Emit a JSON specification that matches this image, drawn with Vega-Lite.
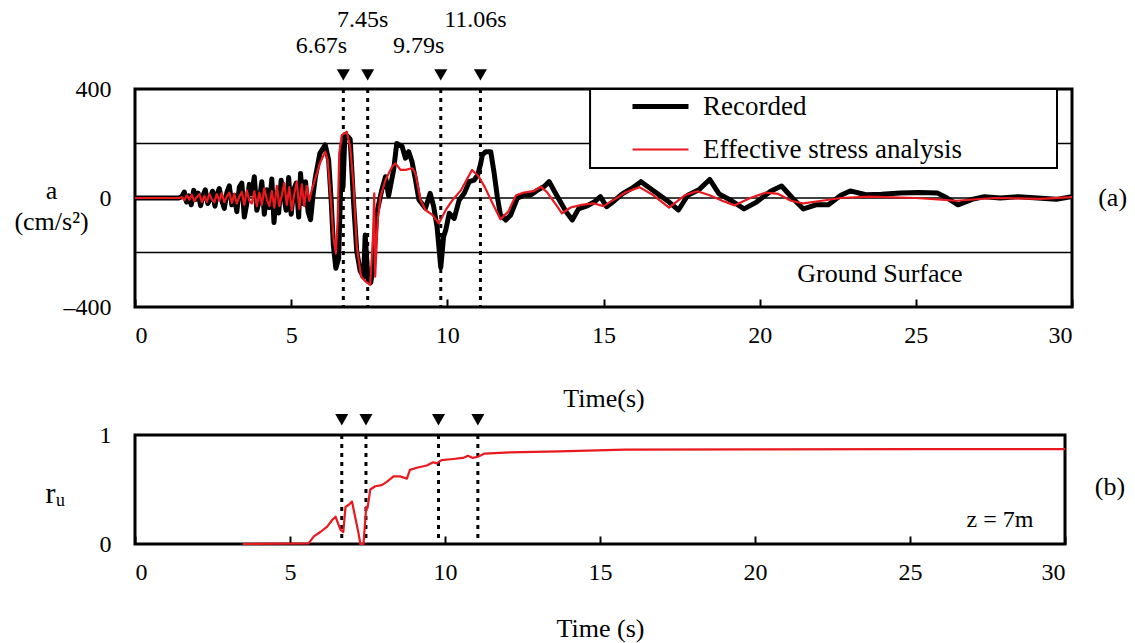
{
  "$schema": "https://vega.github.io/schema/vega-lite/v6.json",
  "background": "white",
  "padding": {"left": 12, "top": 6, "right": 0, "bottom": 0},
  "bounds": "flush",
  "spacing": 128,
  "config": {
    "font": "Liberation Serif",
    "view": {"stroke": "black", "strokeWidth": 3},
    "axis": {"labelFont": "Liberation Serif", "titleFont": "Liberation Serif", "labelColor": "black", "titleColor": "black", "titleFontWeight": "normal", "domain": false, "grid": false, "labelFontSize": 24, "titleFontSize": 26},
    "text": {"font": "Liberation Serif", "color": "black"}
  },
  "datasets": {
    "grid": [{"a": -200}, {"a": 0}, {"a": 200}],
    "markers": [{"t": 6.67, "label": "6.67s"}, {"t": 7.45, "label": "7.45s"}, {"t": 9.79, "label": "9.79s"}, {"t": 11.06, "label": "11.06s"}],
    "acc": [
      {"series":"Recorded","t":0,"a":0},{"series":"Recorded","t":1.4,"a":0},{"series":"Recorded","t":1.5,"a":5},{"series":"Recorded","t":1.58,"a":22},{"series":"Recorded","t":1.65,"a":-15},{"series":"Recorded","t":1.72,"a":8},{"series":"Recorded","t":1.8,"a":-25},{"series":"Recorded","t":1.88,"a":28},{"series":"Recorded","t":1.95,"a":-5},{"series":"Recorded","t":2.02,"a":18},{"series":"Recorded","t":2.1,"a":-28},{"series":"Recorded","t":2.18,"a":10},{"series":"Recorded","t":2.25,"a":30},{"series":"Recorded","t":2.33,"a":-20},{"series":"Recorded","t":2.4,"a":-5},{"series":"Recorded","t":2.48,"a":25},{"series":"Recorded","t":2.56,"a":-30},{"series":"Recorded","t":2.63,"a":15},{"series":"Recorded","t":2.7,"a":35},{"series":"Recorded","t":2.78,"a":-10},{"series":"Recorded","t":2.86,"a":-38},{"series":"Recorded","t":2.94,"a":20},{"series":"Recorded","t":3.02,"a":45},{"series":"Recorded","t":3.1,"a":-25},{"series":"Recorded","t":3.18,"a":10},{"series":"Recorded","t":3.26,"a":-50},{"series":"Recorded","t":3.34,"a":40},{"series":"Recorded","t":3.42,"a":55},{"series":"Recorded","t":3.5,"a":-70},{"series":"Recorded","t":3.58,"a":-20},{"series":"Recorded","t":3.66,"a":50},{"series":"Recorded","t":3.74,"a":15},{"series":"Recorded","t":3.82,"a":78},{"series":"Recorded","t":3.9,"a":-45},{"series":"Recorded","t":3.98,"a":-10},{"series":"Recorded","t":4.06,"a":60},{"series":"Recorded","t":4.14,"a":-60},{"series":"Recorded","t":4.22,"a":30},{"series":"Recorded","t":4.3,"a":-35},{"series":"Recorded","t":4.38,"a":70},{"series":"Recorded","t":4.45,"a":-90},{"series":"Recorded","t":4.52,"a":20},{"series":"Recorded","t":4.6,"a":-55},{"series":"Recorded","t":4.68,"a":65},{"series":"Recorded","t":4.76,"a":10},{"series":"Recorded","t":4.84,"a":-45},{"series":"Recorded","t":4.92,"a":75},{"series":"Recorded","t":5.0,"a":-60},{"series":"Recorded","t":5.08,"a":30},{"series":"Recorded","t":5.16,"a":55},{"series":"Recorded","t":5.24,"a":-70},{"series":"Recorded","t":5.3,"a":90},{"series":"Recorded","t":5.38,"a":-20},{"series":"Recorded","t":5.46,"a":60},{"series":"Recorded","t":5.54,"a":-50},{"series":"Recorded","t":5.62,"a":-80},{"series":"Recorded","t":5.7,"a":10},{"series":"Recorded","t":5.77,"a":73},{"series":"Recorded","t":5.92,"a":164},{"series":"Recorded","t":6.09,"a":195},{"series":"Recorded","t":6.2,"a":139},{"series":"Recorded","t":6.28,"a":-7},{"series":"Recorded","t":6.35,"a":-172},{"series":"Recorded","t":6.43,"a":-258},{"series":"Recorded","t":6.52,"a":-222},{"series":"Recorded","t":6.57,"a":-20},{"series":"Recorded","t":6.62,"a":190},{"series":"Recorded","t":6.66,"a":40},{"series":"Recorded","t":6.72,"a":232},{"series":"Recorded","t":6.82,"a":225},{"series":"Recorded","t":6.89,"a":215},{"series":"Recorded","t":7.0,"a":-20},{"series":"Recorded","t":7.1,"a":-196},{"series":"Recorded","t":7.21,"a":-268},{"series":"Recorded","t":7.32,"a":-289},{"series":"Recorded","t":7.37,"a":-136},{"series":"Recorded","t":7.46,"a":-300},{"series":"Recorded","t":7.55,"a":-310},{"series":"Recorded","t":7.64,"a":-240},{"series":"Recorded","t":7.74,"a":-56},{"series":"Recorded","t":7.9,"a":29},{"series":"Recorded","t":8.02,"a":78},{"series":"Recorded","t":8.12,"a":8},{"series":"Recorded","t":8.28,"a":103},{"series":"Recorded","t":8.38,"a":200},{"series":"Recorded","t":8.55,"a":190},{"series":"Recorded","t":8.66,"a":146},{"series":"Recorded","t":8.76,"a":170},{"series":"Recorded","t":8.87,"a":133},{"series":"Recorded","t":8.98,"a":67},{"series":"Recorded","t":9.09,"a":-6},{"series":"Recorded","t":9.3,"a":-38},{"series":"Recorded","t":9.45,"a":17},{"series":"Recorded","t":9.56,"a":-30},{"series":"Recorded","t":9.67,"a":-105},{"series":"Recorded","t":9.79,"a":-255},{"series":"Recorded","t":9.88,"a":-142},{"series":"Recorded","t":9.95,"a":-117},{"series":"Recorded","t":10.06,"a":-56},{"series":"Recorded","t":10.22,"a":-75},{"series":"Recorded","t":10.38,"a":-7},{"series":"Recorded","t":10.54,"a":17},{"series":"Recorded","t":10.7,"a":60},{"series":"Recorded","t":10.86,"a":66},{"series":"Recorded","t":10.97,"a":84},{"series":"Recorded","t":11.07,"a":127},{"series":"Recorded","t":11.12,"a":158},{"series":"Recorded","t":11.23,"a":170},{"series":"Recorded","t":11.39,"a":170},{"series":"Recorded","t":11.5,"a":90},{"series":"Recorded","t":11.6,"a":5},{"series":"Recorded","t":11.7,"a":-62},{"series":"Recorded","t":11.87,"a":-81},{"series":"Recorded","t":12.03,"a":-62},{"series":"Recorded","t":12.24,"a":-1},{"series":"Recorded","t":12.46,"a":11},{"series":"Recorded","t":12.67,"a":11},{"series":"Recorded","t":12.89,"a":29},{"series":"Recorded","t":13.1,"a":42},{"series":"Recorded","t":13.26,"a":60},{"series":"Recorded","t":13.45,"a":20},{"series":"Recorded","t":13.6,"a":-10},{"series":"Recorded","t":13.8,"a":-50},{"series":"Recorded","t":14.0,"a":-81},{"series":"Recorded","t":14.2,"a":-40},{"series":"Recorded","t":14.45,"a":-30},{"series":"Recorded","t":14.7,"a":-15},{"series":"Recorded","t":14.9,"a":5},{"series":"Recorded","t":15.1,"a":-32},{"series":"Recorded","t":15.35,"a":-10},{"series":"Recorded","t":15.6,"a":15},{"series":"Recorded","t":15.9,"a":35},{"series":"Recorded","t":16.2,"a":60},{"series":"Recorded","t":16.5,"a":35},{"series":"Recorded","t":16.8,"a":10},{"series":"Recorded","t":17.1,"a":-15},{"series":"Recorded","t":17.4,"a":-44},{"series":"Recorded","t":17.7,"a":10},{"series":"Recorded","t":18.05,"a":30},{"series":"Recorded","t":18.4,"a":68},{"series":"Recorded","t":18.7,"a":15},{"series":"Recorded","t":19.1,"a":-10},{"series":"Recorded","t":19.5,"a":-40},{"series":"Recorded","t":19.9,"a":-15},{"series":"Recorded","t":20.35,"a":25},{"series":"Recorded","t":20.7,"a":44},{"series":"Recorded","t":21.05,"a":0},{"series":"Recorded","t":21.4,"a":-40},{"series":"Recorded","t":21.8,"a":-25},{"series":"Recorded","t":22.2,"a":-25},{"series":"Recorded","t":22.6,"a":10},{"series":"Recorded","t":22.9,"a":26},{"series":"Recorded","t":23.4,"a":12},{"series":"Recorded","t":23.9,"a":14},{"series":"Recorded","t":24.5,"a":18},{"series":"Recorded","t":25.1,"a":20},{"series":"Recorded","t":25.7,"a":18},{"series":"Recorded","t":26.0,"a":0},{"series":"Recorded","t":26.35,"a":-25},{"series":"Recorded","t":26.8,"a":-5},{"series":"Recorded","t":27.2,"a":5},{"series":"Recorded","t":27.7,"a":0},{"series":"Recorded","t":28.3,"a":5},{"series":"Recorded","t":28.9,"a":0},{"series":"Recorded","t":29.5,"a":-5},{"series":"Recorded","t":30,"a":5},
      {"series":"Effective stress analysis","t":0,"a":0},{"series":"Effective stress analysis","t":1.4,"a":0},{"series":"Effective stress analysis","t":1.5,"a":3},{"series":"Effective stress analysis","t":1.58,"a":-8},{"series":"Effective stress analysis","t":1.66,"a":10},{"series":"Effective stress analysis","t":1.74,"a":-6},{"series":"Effective stress analysis","t":1.82,"a":12},{"series":"Effective stress analysis","t":1.9,"a":-12},{"series":"Effective stress analysis","t":1.98,"a":4},{"series":"Effective stress analysis","t":2.06,"a":14},{"series":"Effective stress analysis","t":2.14,"a":-15},{"series":"Effective stress analysis","t":2.22,"a":8},{"series":"Effective stress analysis","t":2.3,"a":-14},{"series":"Effective stress analysis","t":2.38,"a":15},{"series":"Effective stress analysis","t":2.46,"a":-5},{"series":"Effective stress analysis","t":2.54,"a":-16},{"series":"Effective stress analysis","t":2.62,"a":14},{"series":"Effective stress analysis","t":2.7,"a":-10},{"series":"Effective stress analysis","t":2.78,"a":18},{"series":"Effective stress analysis","t":2.86,"a":-15},{"series":"Effective stress analysis","t":2.94,"a":6},{"series":"Effective stress analysis","t":3.02,"a":20},{"series":"Effective stress analysis","t":3.1,"a":-18},{"series":"Effective stress analysis","t":3.18,"a":15},{"series":"Effective stress analysis","t":3.26,"a":-20},{"series":"Effective stress analysis","t":3.34,"a":5},{"series":"Effective stress analysis","t":3.42,"a":22},{"series":"Effective stress analysis","t":3.5,"a":-25},{"series":"Effective stress analysis","t":3.58,"a":28},{"series":"Effective stress analysis","t":3.66,"a":-10},{"series":"Effective stress analysis","t":3.74,"a":-20},{"series":"Effective stress analysis","t":3.82,"a":25},{"series":"Effective stress analysis","t":3.9,"a":-30},{"series":"Effective stress analysis","t":3.98,"a":20},{"series":"Effective stress analysis","t":4.06,"a":-25},{"series":"Effective stress analysis","t":4.14,"a":35},{"series":"Effective stress analysis","t":4.22,"a":-5},{"series":"Effective stress analysis","t":4.3,"a":-30},{"series":"Effective stress analysis","t":4.38,"a":25},{"series":"Effective stress analysis","t":4.46,"a":-35},{"series":"Effective stress analysis","t":4.54,"a":45},{"series":"Effective stress analysis","t":4.62,"a":-30},{"series":"Effective stress analysis","t":4.7,"a":10},{"series":"Effective stress analysis","t":4.78,"a":55},{"series":"Effective stress analysis","t":4.86,"a":-25},{"series":"Effective stress analysis","t":4.94,"a":40},{"series":"Effective stress analysis","t":5.02,"a":-45},{"series":"Effective stress analysis","t":5.1,"a":15},{"series":"Effective stress analysis","t":5.18,"a":60},{"series":"Effective stress analysis","t":5.26,"a":-40},{"series":"Effective stress analysis","t":5.34,"a":50},{"series":"Effective stress analysis","t":5.42,"a":-30},{"series":"Effective stress analysis","t":5.5,"a":45},{"series":"Effective stress analysis","t":5.58,"a":-10},{"series":"Effective stress analysis","t":5.66,"a":29},{"series":"Effective stress analysis","t":5.92,"a":127},{"series":"Effective stress analysis","t":6.09,"a":170},{"series":"Effective stress analysis","t":6.17,"a":139},{"series":"Effective stress analysis","t":6.28,"a":-20},{"series":"Effective stress analysis","t":6.35,"a":-142},{"series":"Effective stress analysis","t":6.43,"a":-203},{"series":"Effective stress analysis","t":6.49,"a":-81},{"series":"Effective stress analysis","t":6.54,"a":164},{"series":"Effective stress analysis","t":6.62,"a":231},{"series":"Effective stress analysis","t":6.78,"a":243},{"series":"Effective stress analysis","t":6.89,"a":188},{"series":"Effective stress analysis","t":7.0,"a":42},{"series":"Effective stress analysis","t":7.1,"a":-179},{"series":"Effective stress analysis","t":7.24,"a":-289},{"series":"Effective stress analysis","t":7.39,"a":-307},{"series":"Effective stress analysis","t":7.53,"a":-319},{"series":"Effective stress analysis","t":7.62,"a":-142},{"series":"Effective stress analysis","t":7.66,"a":17},{"series":"Effective stress analysis","t":7.69,"a":-289},{"series":"Effective stress analysis","t":7.77,"a":-81},{"series":"Effective stress analysis","t":7.86,"a":5},{"series":"Effective stress analysis","t":8.02,"a":66},{"series":"Effective stress analysis","t":8.23,"a":115},{"series":"Effective stress analysis","t":8.34,"a":127},{"series":"Effective stress analysis","t":8.5,"a":103},{"series":"Effective stress analysis","t":8.66,"a":103},{"series":"Effective stress analysis","t":8.88,"a":109},{"series":"Effective stress analysis","t":8.98,"a":90},{"series":"Effective stress analysis","t":9.14,"a":-7},{"series":"Effective stress analysis","t":9.3,"a":-44},{"series":"Effective stress analysis","t":9.52,"a":-62},{"series":"Effective stress analysis","t":9.73,"a":-93},{"series":"Effective stress analysis","t":9.95,"a":-44},{"series":"Effective stress analysis","t":10.17,"a":-7},{"series":"Effective stress analysis","t":10.44,"a":29},{"series":"Effective stress analysis","t":10.79,"a":103},{"series":"Effective stress analysis","t":11.0,"a":80},{"series":"Effective stress analysis","t":11.2,"a":40},{"series":"Effective stress analysis","t":11.45,"a":-20},{"series":"Effective stress analysis","t":11.7,"a":-78},{"series":"Effective stress analysis","t":11.95,"a":-50},{"series":"Effective stress analysis","t":12.2,"a":10},{"series":"Effective stress analysis","t":12.45,"a":20},{"series":"Effective stress analysis","t":12.75,"a":25},{"series":"Effective stress analysis","t":13.0,"a":41},{"series":"Effective stress analysis","t":13.2,"a":20},{"series":"Effective stress analysis","t":13.45,"a":-20},{"series":"Effective stress analysis","t":13.67,"a":-56},{"series":"Effective stress analysis","t":13.95,"a":-35},{"series":"Effective stress analysis","t":14.3,"a":-25},{"series":"Effective stress analysis","t":14.7,"a":-20},{"series":"Effective stress analysis","t":15.0,"a":-30},{"series":"Effective stress analysis","t":15.35,"a":-5},{"series":"Effective stress analysis","t":15.7,"a":20},{"series":"Effective stress analysis","t":16.15,"a":40},{"series":"Effective stress analysis","t":16.6,"a":10},{"series":"Effective stress analysis","t":17.1,"a":-35},{"series":"Effective stress analysis","t":17.6,"a":10},{"series":"Effective stress analysis","t":18.0,"a":25},{"series":"Effective stress analysis","t":18.4,"a":10},{"series":"Effective stress analysis","t":18.8,"a":-10},{"series":"Effective stress analysis","t":19.2,"a":-27},{"series":"Effective stress analysis","t":19.7,"a":0},{"series":"Effective stress analysis","t":20.2,"a":20},{"series":"Effective stress analysis","t":20.6,"a":15},{"series":"Effective stress analysis","t":21.0,"a":-10},{"series":"Effective stress analysis","t":21.4,"a":-20},{"series":"Effective stress analysis","t":22.0,"a":-10},{"series":"Effective stress analysis","t":22.6,"a":0},{"series":"Effective stress analysis","t":23.5,"a":5},{"series":"Effective stress analysis","t":25.0,"a":0},{"series":"Effective stress analysis","t":26.3,"a":-10},{"series":"Effective stress analysis","t":27.5,"a":0},{"series":"Effective stress analysis","t":29,"a":-3},{"series":"Effective stress analysis","t":30,"a":3}
    ],
    "ru": [
      {"t":3.47,"ru":0},{"t":5.6,"ru":0.005},{"t":5.77,"ru":0.07},{"t":5.98,"ru":0.11},{"t":6.2,"ru":0.16},{"t":6.36,"ru":0.22},{"t":6.47,"ru":0.25},{"t":6.55,"ru":0.19},{"t":6.63,"ru":0.13},{"t":6.72,"ru":0.11},{"t":6.79,"ru":0.34},{"t":6.9,"ru":0.36},{"t":7.0,"ru":0.39},{"t":7.1,"ru":0.25},{"t":7.21,"ru":0.1},{"t":7.27,"ru":0.0},{"t":7.37,"ru":0.0},{"t":7.46,"ru":0.34},{"t":7.5,"ru":0.33},{"t":7.59,"ru":0.5},{"t":7.75,"ru":0.53},{"t":7.96,"ru":0.54},{"t":8.12,"ru":0.57},{"t":8.34,"ru":0.62},{"t":8.55,"ru":0.62},{"t":8.77,"ru":0.6},{"t":8.87,"ru":0.68},{"t":9.09,"ru":0.7},{"t":9.41,"ru":0.72},{"t":9.62,"ru":0.75},{"t":9.73,"ru":0.74},{"t":9.89,"ru":0.77},{"t":10.26,"ru":0.78},{"t":10.58,"ru":0.79},{"t":10.74,"ru":0.81},{"t":10.9,"ru":0.79},{"t":11.06,"ru":0.8},{"t":11.28,"ru":0.83},{"t":12.08,"ru":0.84},{"t":13.68,"ru":0.85},{"t":15.8,"ru":0.865},{"t":20,"ru":0.868},{"t":25,"ru":0.87},{"t":30,"ru":0.87}
    ]
  },
  "vconcat": [
    {
      "width": 937,
      "height": 218,
      "layer": [
        {
          "data": {"name": "grid"},
          "mark": {"type": "rule", "color": "black", "strokeWidth": 1.5},
          "encoding": {
            "y": {"field": "a", "type": "quantitative", "scale": {"domain": [-400, 400], "nice": false, "zero": false}}
          }
        },
        {
          "data": {"values": [{}]},
          "mark": {"type": "rect", "fill": "white", "stroke": "black", "strokeWidth": 2},
          "encoding": {
            "x": {"datum": 14.57, "type": "quantitative", "scale": {"domain": [0, 30], "nice": false, "zero": false}},
            "x2": {"datum": 29.52},
            "y": {"datum": 400, "type": "quantitative", "scale": {"domain": [-400, 400], "nice": false, "zero": false}},
            "y2": {"datum": 110}
          }
        },
        {
          "data": {"name": "markers"},
          "mark": {"type": "rule", "color": "black", "strokeWidth": 3, "strokeDash": [4, 5]},
          "encoding": {
            "x": {"field": "t", "type": "quantitative", "scale": {"domain": [0, 30], "nice": false, "zero": false}}
          }
        },
        {
          "data": {"name": "acc"},
          "transform": [{"filter": "datum.series === 'Recorded'"}],
          "mark": {"type": "line", "strokeJoin": "round"},
          "encoding": {
            "x": {"field": "t", "type": "quantitative", "scale": {"domain": [0, 30], "nice": false, "zero": false},
              "axis": {"title": "Time(s)", "values": [0, 5, 10, 15, 20, 25, 30], "ticks": true, "tickSize": -8, "tickWidth": 2, "tickColor": "black", "labelPadding": 24, "titleY": 91, "titleBaseline": "middle", "titleFontSize": 26}},
            "y": {"field": "a", "type": "quantitative", "scale": {"domain": [-400, 400], "nice": false, "zero": false},
              "axis": {"title": ["a", "(cm/s²)"], "values": [-400, 0, 400], "ticks": false, "labelPadding": 24, "labelExpr": "replace(datum.label, '−', '–')", "titleAngle": 0, "titleAlign": "center", "titleBaseline": "middle", "titleX": -84, "titleY": 101, "titleLineHeight": 31, "titleFontSize": 26}},
            "color": {"field": "series", "type": "nominal", "scale": {"domain": ["Recorded", "Effective stress analysis"], "range": ["#000000", "#e8191f"]},
              "legend": {"title": null, "orient": "none", "legendX": 495, "legendY": -13, "symbolType": "stroke", "symbolSize": 3136, "labelFont": "Liberation Serif", "labelFontSize": 27, "labelColor": "black", "labelOffset": 12, "rowPadding": -26, "padding": 0, "labelLimit": 400}},
            "strokeWidth": {"field": "series", "type": "nominal", "scale": {"domain": ["Recorded", "Effective stress analysis"], "range": [5, 2.2]}}
          }
        },
        {
          "data": {"name": "acc"},
          "transform": [{"filter": "datum.series === 'Effective stress analysis'"}],
          "mark": {"type": "line", "strokeJoin": "round"},
          "encoding": {
            "x": {"field": "t", "type": "quantitative", "scale": {"domain": [0, 30], "nice": false, "zero": false}},
            "y": {"field": "a", "type": "quantitative", "scale": {"domain": [-400, 400], "nice": false, "zero": false}},
            "color": {"field": "series", "type": "nominal", "scale": {"domain": ["Recorded", "Effective stress analysis"], "range": ["#000000", "#e8191f"]}},
            "strokeWidth": {"field": "series", "type": "nominal", "scale": {"domain": ["Recorded", "Effective stress analysis"], "range": [5, 2.2]}}
          }
        },
        {
          "data": {"name": "markers"},
          "mark": {"type": "point", "shape": "triangle-down", "filled": true, "color": "black", "size": 170, "opacity": 1},
          "encoding": {
            "x": {"field": "t", "type": "quantitative", "scale": {"domain": [0, 30], "nice": false, "zero": false}},
            "y": {"datum": 452, "type": "quantitative", "scale": {"domain": [-400, 400], "nice": false, "zero": false}}
          }
        },
        {
          "data": {"name": "markers"},
          "transform": [{"filter": {"field": "label", "oneOf": ["6.67s", "9.79s"]}}],
          "mark": {"type": "text", "fontSize": 24, "align": "center", "baseline": "middle", "dx": -22},
          "encoding": {
            "x": {"field": "t", "type": "quantitative", "scale": {"domain": [0, 30], "nice": false, "zero": false}},
            "y": {"datum": 556, "type": "quantitative", "scale": {"domain": [-400, 400], "nice": false, "zero": false}},
            "text": {"field": "label"}
          }
        },
        {
          "data": {"name": "markers"},
          "transform": [{"filter": {"field": "label", "oneOf": ["7.45s", "11.06s"]}}],
          "mark": {"type": "text", "fontSize": 24, "align": "center", "baseline": "middle", "dx": -5},
          "encoding": {
            "x": {"field": "t", "type": "quantitative", "scale": {"domain": [0, 30], "nice": false, "zero": false}},
            "y": {"datum": 655, "type": "quantitative", "scale": {"domain": [-400, 400], "nice": false, "zero": false}},
            "text": {"field": "label"}
          }
        },
        {
          "data": {"values": [{"note": "Ground Surface"}]},
          "mark": {"type": "text", "fontSize": 26, "align": "center", "baseline": "middle"},
          "encoding": {
            "x": {"datum": 23.85, "type": "quantitative", "scale": {"domain": [0, 30], "nice": false, "zero": false}},
            "y": {"datum": -280, "type": "quantitative", "scale": {"domain": [-400, 400], "nice": false, "zero": false}},
            "text": {"field": "note"}
          }
        },
        {
          "data": {"values": [{"note": "(a)"}]},
          "mark": {"type": "text", "fontSize": 26, "align": "center", "baseline": "middle"},
          "encoding": {
            "x": {"datum": 31.3, "type": "quantitative", "scale": {"domain": [0, 30], "nice": false, "zero": false}},
            "y": {"datum": 0, "type": "quantitative", "scale": {"domain": [-400, 400], "nice": false, "zero": false}},
            "text": {"field": "note"}
          }
        }
      ]
    },
    {
      "width": 930,
      "height": 109,
      "layer": [
        {
          "data": {"name": "markers"},
          "mark": {"type": "rule", "color": "black", "strokeWidth": 3, "strokeDash": [4, 5]},
          "encoding": {
            "x": {"field": "t", "type": "quantitative", "scale": {"domain": [0, 30], "nice": false, "zero": false}}
          }
        },
        {
          "data": {"name": "ru"},
          "mark": {"type": "line", "color": "#e8191f", "strokeWidth": 2.2, "strokeJoin": "round"},
          "encoding": {
            "x": {"field": "t", "type": "quantitative", "scale": {"domain": [0, 30], "nice": false, "zero": false},
              "axis": {"title": "Time (s)", "values": [0, 5, 10, 15, 20, 25, 30], "ticks": true, "tickSize": -8, "tickWidth": 2, "tickColor": "black", "labelPadding": 24, "titleY": 84, "titleBaseline": "middle", "titleFontSize": 26}},
            "y": {"field": "ru", "type": "quantitative", "scale": {"domain": [0, 1], "nice": false, "zero": false},
              "axis": {"title": "rᵤ", "values": [0, 1], "format": ".0f", "ticks": false, "labelPadding": 24, "titleAngle": 0, "titleAlign": "center", "titleBaseline": "middle", "titleX": -80, "titleY": 58, "titleFontSize": 30}}
          }
        },
        {
          "data": {"name": "markers"},
          "mark": {"type": "point", "shape": "triangle-down", "filled": true, "color": "black", "size": 170, "opacity": 1},
          "encoding": {
            "x": {"field": "t", "type": "quantitative", "scale": {"domain": [0, 30], "nice": false, "zero": false}},
            "y": {"datum": 1.14, "type": "quantitative", "scale": {"domain": [0, 1], "nice": false, "zero": false}}
          }
        },
        {
          "data": {"values": [{"note": "z = 7m"}]},
          "mark": {"type": "text", "fontSize": 24, "align": "center", "baseline": "middle"},
          "encoding": {
            "x": {"datum": 27.9, "type": "quantitative", "scale": {"domain": [0, 30], "nice": false, "zero": false}},
            "y": {"datum": 0.22, "type": "quantitative", "scale": {"domain": [0, 1], "nice": false, "zero": false}},
            "text": {"field": "note"}
          }
        },
        {
          "data": {"values": [{"note": "(b)"}]},
          "mark": {"type": "text", "fontSize": 26, "align": "center", "baseline": "middle"},
          "encoding": {
            "x": {"datum": 31.45, "type": "quantitative", "scale": {"domain": [0, 30], "nice": false, "zero": false}},
            "y": {"datum": 0.52, "type": "quantitative", "scale": {"domain": [0, 1], "nice": false, "zero": false}},
            "text": {"field": "note"}
          }
        }
      ]
    }
  ]
}
